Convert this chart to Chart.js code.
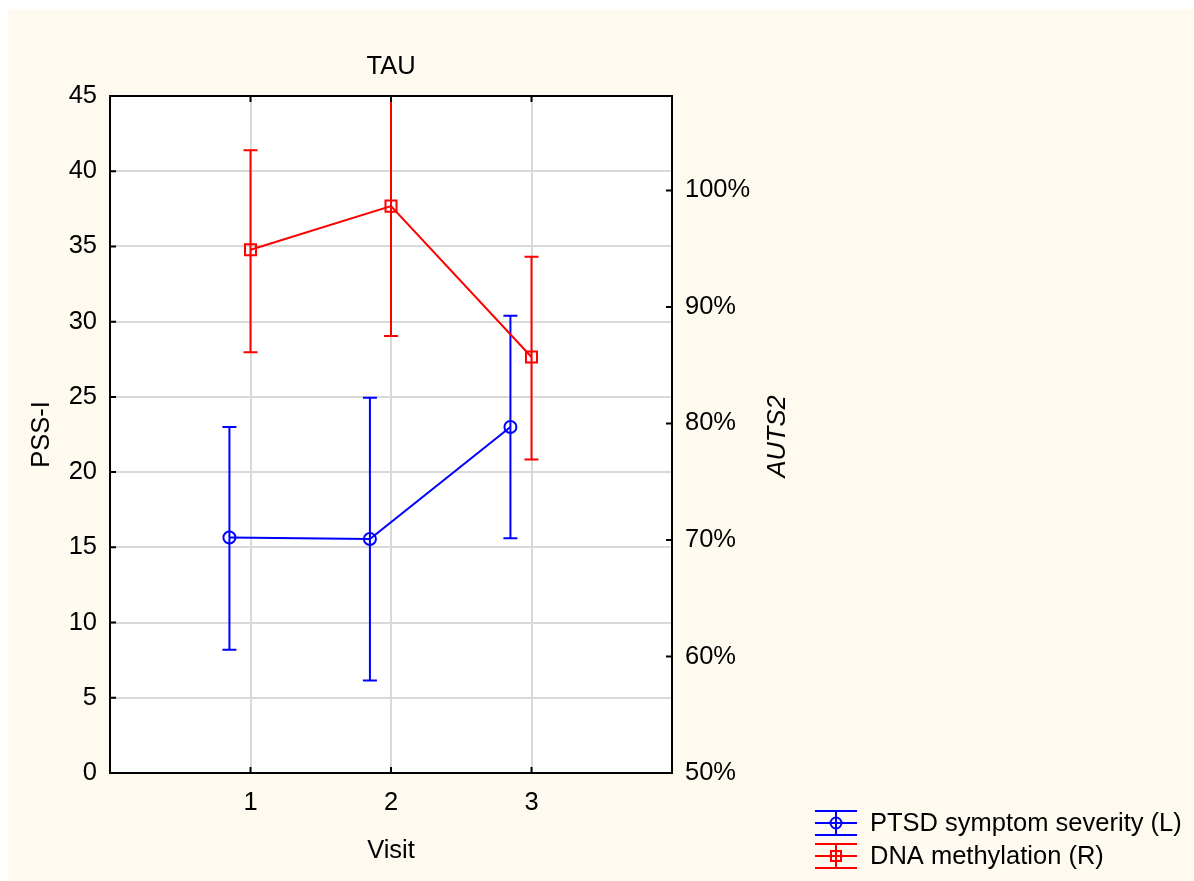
<!DOCTYPE html>
<html>
<head>
<meta charset="utf-8">
<title>TAU</title>
<script src="https://cdn.jsdelivr.net/npm/chart.js@4.4.1/dist/chart.umd.min.js"></script>
<style>
  html, body { margin: 0; padding: 0; background: #ffffff; }
  canvas { display: block; }
</style>
</head>
<body>
<canvas id="chart" width="1194" height="881"></canvas>
<script>
// Visits on the horizontal axis
const visits = [1, 2, 3];
const xTickValues = [1, 2, 3];

// PTSD symptom severity (PSS-I, left axis): means and error-bar limits
const pssMean = [15.65, 15.55, 23.0];
const pssLow  = [8.2, 6.15, 15.6];
const pssHigh = [23.0, 24.95, 30.4];

// DNA methylation of AUTS2 (percent, right axis): means and error-bar limits
const methMean = [94.9, 98.65, 85.7];
const methLow  = [86.1, 87.5, 76.9];
const methHigh = [103.45, 109.8, 94.3];

// Axis tick values
const leftTickValues  = [0, 5, 10, 15, 20, 25, 30, 35, 40, 45];
const rightTickValues = [50, 60, 70, 80, 90, 100];

// Series labels
const seriesLabels = ['PTSD symptom severity (L)', 'DNA methylation (R)'];

// The PSS-I series is drawn slightly to the left of each visit
const pssDodge = -0.15;

const BLUE = '#0000ff';
const RED = '#ff0000';
const FONT = '"Liberation Sans", Arial, Helvetica, sans-serif';
const FS = 25.5;
const CREAM = '#fefaf0';

Chart.defaults.font.family = FONT;
Chart.defaults.font.size = FS;
Chart.defaults.color = '#000000';

const chartPlugin = {
  id: 'statPlot',
  beforeDraw(chart) {
    const { ctx, chartArea: a } = chart;
    ctx.save();
    ctx.fillStyle = '#ffffff';
    ctx.fillRect(0, 0, chart.width, chart.height);
    ctx.fillStyle = CREAM;
    ctx.fillRect(8, 9, chart.width - 8, chart.height - 9);
    ctx.fillStyle = '#ffffff';
    ctx.fillRect(a.left, a.top, a.right - a.left, a.bottom - a.top);
    ctx.restore();
  },
  afterDatasetDraw(chart, args) {
    const ds = chart.data.datasets[args.index];
    if (!ds.errLow) return;
    const { ctx, chartArea: a } = chart;
    const xs = chart.scales.x;
    const ys = chart.scales[ds.yAxisID];
    ctx.save();
    ctx.beginPath();
    ctx.rect(a.left, a.top, a.right - a.left, a.bottom - a.top);
    ctx.clip();
    ctx.strokeStyle = ds.borderColor;
    ctx.lineWidth = 2;
    ds.data.forEach((pt, i) => {
      const x = xs.getPixelForValue(pt.x);
      const yLo = ys.getPixelForValue(ds.errLow[i]);
      const yHi = ys.getPixelForValue(ds.errHigh[i]);
      ctx.beginPath();
      ctx.moveTo(x, yLo); ctx.lineTo(x, yHi);
      ctx.moveTo(x - 7, yLo); ctx.lineTo(x + 7, yLo);
      ctx.moveTo(x - 7, yHi); ctx.lineTo(x + 7, yHi);
      ctx.stroke();
    });
    ctx.restore();
  },
  afterDatasetsDraw(chart) {
    const { ctx, chartArea: a, scales } = chart;
    ctx.save();
    ctx.strokeStyle = '#000000';
    ctx.lineWidth = 2;
    // inward tick marks on all four sides
    const tl = 6;
    ctx.beginPath();
    xTickValues.forEach(v => {
      const x = scales.x.getPixelForValue(v);
      ctx.moveTo(x, a.bottom); ctx.lineTo(x, a.bottom - tl);
      ctx.moveTo(x, a.top); ctx.lineTo(x, a.top + tl);
    });
    leftTickValues.forEach(v => {
      const y = scales.yL.getPixelForValue(v);
      ctx.moveTo(a.left, y); ctx.lineTo(a.left + tl, y);
    });
    rightTickValues.forEach(v => {
      const y = scales.yR.getPixelForValue(v);
      ctx.moveTo(a.right, y); ctx.lineTo(a.right - tl, y);
    });
    ctx.stroke();
    // plot frame
    ctx.strokeRect(a.left, a.top, a.right - a.left, a.bottom - a.top);

    // right axis title (italic, reading upwards)
    ctx.fillStyle = '#000000';
    ctx.font = 'italic ' + FS + 'px ' + FONT;
    ctx.textAlign = 'center';
    ctx.textBaseline = 'middle';
    ctx.translate(778, (a.top + a.bottom) / 2 + 2);
    ctx.rotate(-Math.PI / 2);
    ctx.fillText('AUTS2', 0, 0);
    ctx.restore();

    // legend
    const items = [
      { color: BLUE, shape: 'circle', label: seriesLabels[0], y: 823 },
      { color: RED, shape: 'square', label: seriesLabels[1], y: 856 }
    ];
    ctx.save();
    items.forEach(it => {
      const x0 = 815, w = 42, cx = x0 + w / 2, h = 12;
      ctx.strokeStyle = it.color;
      ctx.lineWidth = 2;
      ctx.beginPath();
      [-h, 0, h].forEach(dy => { ctx.moveTo(x0, it.y + dy); ctx.lineTo(x0 + w, it.y + dy); });
      ctx.moveTo(cx, it.y - h); ctx.lineTo(cx, it.y + h);
      ctx.stroke();
      ctx.beginPath();
      if (it.shape === 'circle') {
        ctx.arc(cx, it.y, 5.5, 0, Math.PI * 2);
      } else {
        ctx.rect(cx - 5, it.y - 5, 10, 10);
      }
      ctx.stroke();
      ctx.fillStyle = '#000000';
      ctx.font = FS + 'px ' + FONT;
      ctx.textAlign = 'left';
      ctx.textBaseline = 'middle';
      ctx.fillText(it.label, 870, it.y + 1);
    });
    ctx.restore();
  }
};

const gridColor = '#d9d9d9';

new Chart(document.getElementById('chart'), {
  type: 'scatter',
  data: {
    datasets: [
      {
        label: seriesLabels[0],
        data: visits.map((v, i) => ({ x: v + pssDodge, y: pssMean[i] })),
        errLow: pssLow,
        errHigh: pssHigh,
        yAxisID: 'yL',
        showLine: true,
        borderColor: BLUE,
        backgroundColor: 'rgba(0,0,0,0)',
        borderWidth: 2,
        pointStyle: 'circle',
        pointRadius: 6,
        pointBorderWidth: 2,
        pointBorderColor: BLUE,
        pointBackgroundColor: 'rgba(0,0,0,0)',
        order: 2
      },
      {
        label: seriesLabels[1],
        data: visits.map((v, i) => ({ x: v, y: methMean[i] })),
        errLow: methLow,
        errHigh: methHigh,
        yAxisID: 'yR',
        showLine: true,
        borderColor: RED,
        backgroundColor: 'rgba(0,0,0,0)',
        borderWidth: 2,
        pointStyle: 'rect',
        pointRadius: 7.8,
        pointBorderWidth: 2,
        pointBorderColor: RED,
        pointBackgroundColor: 'rgba(0,0,0,0)',
        order: 1
      }
    ]
  },
  options: {
    responsive: false,
    animation: false,
    devicePixelRatio: 1,
    events: [],
    layout: { padding: 0 },
    plugins: {
      legend: { display: false },
      tooltip: { enabled: false },
      title: {
        display: true,
        text: 'TAU',
        fullSize: false,
        color: '#000000',
        font: { size: FS, weight: 'normal' },
        padding: { top: 51.7, bottom: 13.7 }
      }
    },
    scales: {
      x: {
        type: 'linear',
        position: 'bottom',
        min: 0,
        max: 4,
        afterBuildTicks: s => { s.ticks = xTickValues.map(v => ({ value: v })); },
        afterFit: s => { s.height = 108; },
        grid: { color: gridColor, lineWidth: 2, drawTicks: false },
        border: { display: false },
        ticks: { padding: 14.7, color: '#000000', font: { size: FS } },
        title: { display: true, text: 'Visit', color: '#000000', font: { size: FS }, padding: { top: 0, bottom: 14.7 } }
      },
      yL: {
        type: 'linear',
        position: 'left',
        min: 0,
        max: 45,
        afterBuildTicks: s => { s.ticks = leftTickValues.map(v => ({ value: v })); },
        afterFit: s => { s.width = 110; },
        grid: { color: gridColor, lineWidth: 2, drawTicks: false },
        border: { display: false },
        ticks: { padding: 13, color: '#000000', font: { size: FS } },
        title: { display: true, text: 'PSS-I', color: '#000000', font: { size: FS }, padding: { top: 26.7, bottom: 0 } }
      },
      yR: {
        type: 'linear',
        position: 'right',
        min: 50,
        max: 108.1,
        afterBuildTicks: s => { s.ticks = rightTickValues.map(v => ({ value: v })); },
        afterFit: s => { s.width = 522; },
        grid: { display: false, drawTicks: false },
        border: { display: false },
        ticks: { padding: 13, color: '#000000', font: { size: FS }, callback: v => v + '%' }
      }
    }
  },
  plugins: [chartPlugin]
});
</script>
</body>
</html>
